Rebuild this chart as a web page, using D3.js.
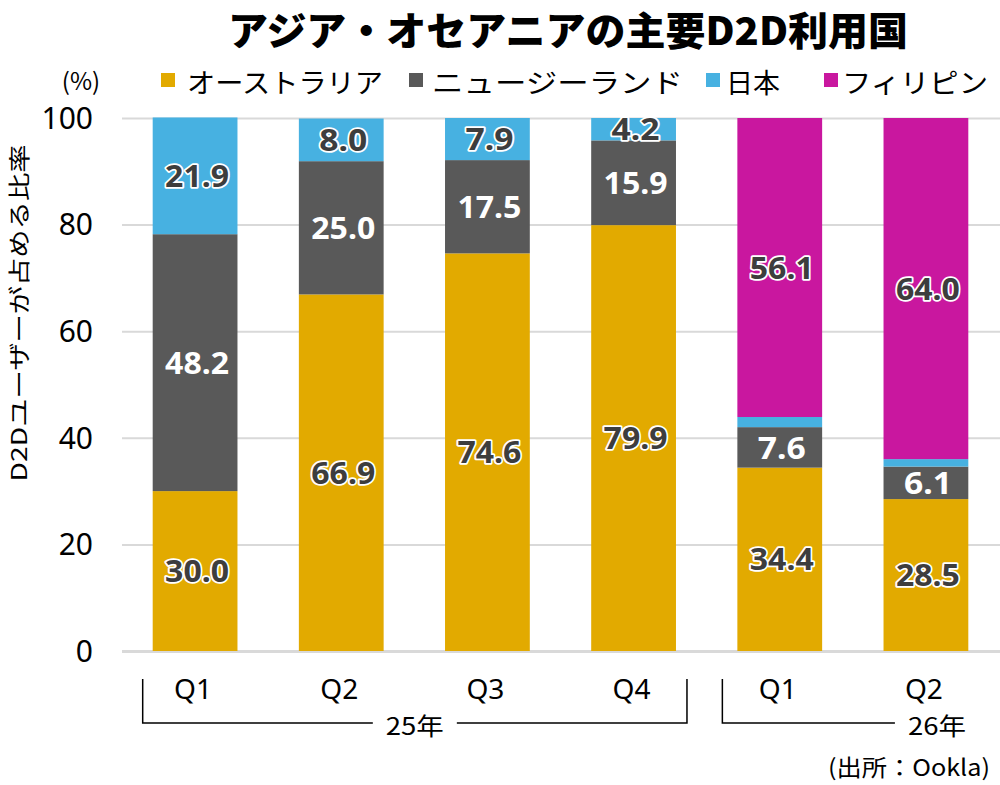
<!DOCTYPE html>
<html>
<head>
<meta charset="utf-8">
<script src="https://cdn.jsdelivr.net/npm/d3@7"></script>
<style>
  html, body { margin: 0; padding: 0; background: #fff; }
  svg { display: block; font-family: "Noto Sans CJK JP", "Noto Sans", sans-serif; }
</style>
</head>
<body>
<div id="chart"></div>
<script>
// データ
const periods = ["25Q1", "25Q2", "25Q3", "25Q4", "26Q1", "26Q2"];
const tickLabels = ["Q1", "Q2", "Q3", "Q4", "Q1", "Q2"];
const australia   = [30.0, 66.9, 74.6, 79.9, 34.4, 28.5];
const newZealand  = [48.2, 25.0, 17.5, 15.9, 7.6, 6.1];
const japan       = [21.9, 8.0, 7.9, 4.2, 1.9, 1.4];
const philippines = [0, 0, 0, 0, 56.1, 64.0];
const seriesNames = ["オーストラリア", "ニュージーランド", "日本", "フィリピン"];
const yTicks = [0, 20, 40, 60, 80, 100];
const years = [
  { label: "25年", first: "25Q1", last: "25Q4" },
  { label: "26年", first: "26Q1", last: "26Q2" }
];

const width = 1000, height = 785;
const colors = ["#e2aa00", "#595959", "#47b1e1", "#c9179f"];
const keys = ["au", "nz", "jp", "ph"];

const rows = periods.map((p, i) => ({
  period: p, au: australia[i], nz: newZealand[i], jp: japan[i], ph: philippines[i]
}));

const svg = d3.select("#chart").append("svg")
  .attr("width", width)
  .attr("height", height);

const x = d3.scaleBand().domain(periods).range([122, 999])
  .paddingInner(0.42).paddingOuter(0.21);
const y = d3.scaleLinear().domain([0, 100]).range([651, 118]);

// タイトル
svg.append("text")
  .attr("x", 568).attr("y", 28)
  .attr("text-anchor", "middle").attr("dominant-baseline", "central")
  .attr("font-size", 39).attr("font-weight", 900)
  .attr("textLength", 680).attr("lengthAdjust", "spacingAndGlyphs")
  .text("アジア・オセアニアの主要D2D利用国");

// 凡例
svg.append("text")
  .attr("x", 81).attr("y", 79)
  .attr("text-anchor", "middle").attr("dominant-baseline", "central")
  .attr("font-size", 24)
  .text("(%)");

const legendPos = [
  { sq: 161, tx: 187, len: 196 },
  { sq: 409, tx: 432, len: 251 },
  { sq: 706, tx: 726, len: 54 },
  { sq: 824, tx: 842, len: 146 }
];
const legend = svg.append("g");
seriesNames.forEach((name, i) => {
  legend.append("rect")
    .attr("x", legendPos[i].sq).attr("y", 73)
    .attr("width", 14).attr("height", 14)
    .attr("fill", colors[i]);
  legend.append("text")
    .attr("x", legendPos[i].tx).attr("y", 81)
    .attr("dominant-baseline", "central")
    .attr("font-size", 27)
    .attr("textLength", legendPos[i].len).attr("lengthAdjust", "spacingAndGlyphs")
    .text(name);
});

// 目盛線
const yAxis = svg.append("g")
  .attr("transform", "translate(122,0)")
  .call(d3.axisLeft(y).tickValues(yTicks).tickSize(-878).tickPadding(29));
yAxis.select(".domain").remove();
yAxis.selectAll(".tick line")
  .attr("stroke", "#d9d9d9")
  .attr("stroke-width", d => d === 0 ? 3 : 2);
yAxis.selectAll(".tick text")
  .attr("font-family", "'Noto Sans', sans-serif")
  .attr("font-size", 30).attr("fill", "#000")
  .attr("dy", "0.34em");

svg.append("text")
  .attr("transform", "translate(17,313) rotate(-90)")
  .attr("text-anchor", "middle").attr("dominant-baseline", "central")
  .attr("font-size", 22)
  .attr("textLength", 337).attr("lengthAdjust", "spacingAndGlyphs")
  .text("D2Dユーザーが占める比率");

// 積み上げ棒
const stacked = d3.stack().keys(keys)(rows);
const layers = svg.append("g").selectAll("g")
  .data(stacked).join("g")
  .attr("fill", (d, i) => colors[i]);

layers.selectAll("rect")
  .data(d => d)
  .join("rect")
  .attr("x", d => x(d.data.period))
  .attr("width", x.bandwidth())
  .attr("y", d => y(d[1]))
  .attr("height", d => y(d[0]) - y(d[1]));

// 数値ラベル
const labels = svg.append("g")
  .attr("font-family", "'Noto Sans', sans-serif")
  .attr("font-weight", 700).attr("font-size", 31)
  .attr("text-anchor", "middle");

stacked.forEach((layer, li) => {
  layer.forEach(d => {
    const v = d[1] - d[0];
    if (v < 3) return; // 小さい区分は表示しない
    const t = labels.append("text")
      .attr("x", x(d.data.period) + x.bandwidth() / 2 + 2)
      .attr("y", y((d[0] + d[1]) / 2))
      .attr("dy", "0.36em")
      .attr("textLength", v >= 10 ? 64 : 48).attr("lengthAdjust", "spacingAndGlyphs")
      .text(v.toFixed(1));
    if (keys[li] === "nz") {
      t.attr("fill", "#fff");
    } else {
      t.attr("fill", "#3d3d3d")
        .attr("stroke", "#fff").attr("stroke-width", 3.5)
        .attr("stroke-linejoin", "round")
        .attr("paint-order", "stroke");
    }
  });
});

// 横軸ラベル
svg.append("g").selectAll("text")
  .data(periods).join("text")
  .attr("x", d => x(d) + x.bandwidth() / 2 - 2)
  .attr("y", 688)
  .attr("text-anchor", "middle").attr("dominant-baseline", "central")
  .attr("font-family", "'Noto Sans', sans-serif")
  .attr("font-size", 28)
  .attr("textLength", 38).attr("lengthAdjust", "spacingAndGlyphs")
  .text((d, i) => tickLabels[i]);

// 年の括弧
const br = svg.append("g")
  .attr("fill", "none").attr("stroke", "#000").attr("stroke-width", 1.5);
const yearText = svg.append("g")
  .attr("font-family", "'Noto Sans CJK JP', sans-serif")
  .attr("font-size", 24).attr("text-anchor", "middle");

years.forEach((yr, i) => {
  const left = x(yr.first) - (i === 0 ? 10 : 15);
  const fullYear = i === 0;
  const right = fullYear ? x(yr.last) + x.bandwidth() + 11 : width + 10;
  const cx = fullYear ? (left + right) / 2 : x(yr.last) + x.bandwidth() / 2 + 11;
  const half = 30 + 12;
  br.append("path")
    .attr("d", fullYear
      ? `M${left},679V723H${cx - half}M${cx + half},723H${right}V679`
      : `M${left},679V723H${cx - half}`);
  yearText.append("text")
    .attr("x", cx).attr("y", 724)
    .attr("dominant-baseline", "central")
    .attr("textLength", 58).attr("lengthAdjust", "spacingAndGlyphs")
    .text(yr.label);
});

// 出所
svg.append("text")
  .attr("x", 990).attr("y", 766)
  .attr("text-anchor", "end").attr("dominant-baseline", "central")
  .attr("font-size", 23)
  .attr("textLength", 162).attr("lengthAdjust", "spacingAndGlyphs")
  .text("(出所：Ookla)");
</script>
</body>
</html>
